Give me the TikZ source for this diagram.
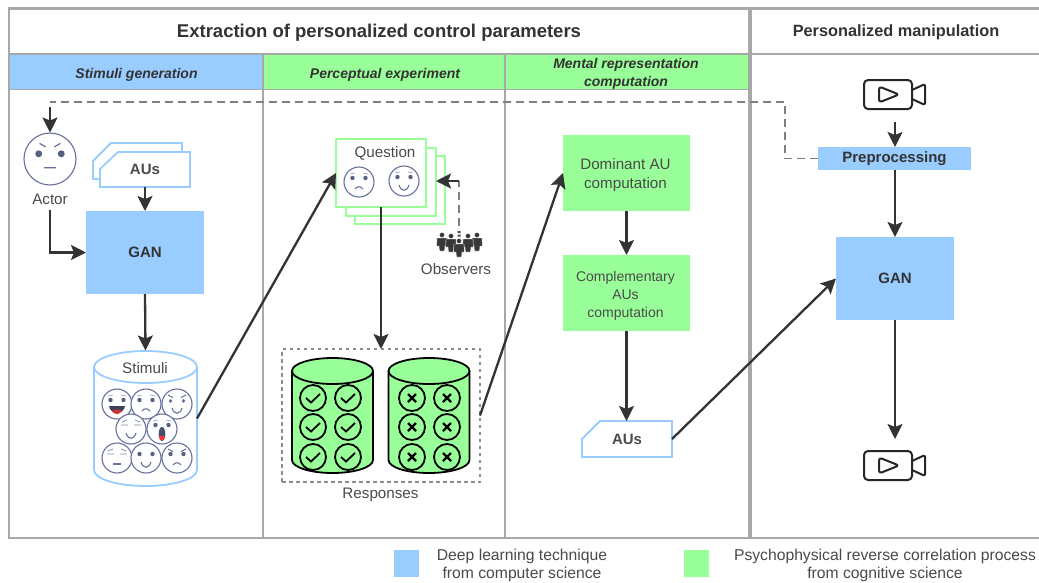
\documentclass[tikz,border=0pt]{standalone}
\usepackage{fontspec}
\setmainfont{Liberation Sans}
\usetikzlibrary{arrows.meta,calc}
\definecolor{bl}{HTML}{99CCFF}
\definecolor{gr}{HTML}{99FF99}
\definecolor{frm}{HTML}{A8A8A8}
\definecolor{ink}{HTML}{333333}
\definecolor{txt}{HTML}{4A4A4A}
\definecolor{fc}{HTML}{66709A}
\tikzset{
 x=1pt,y=-1pt,
 every node/.style={inner sep=0pt,outer sep=0pt,text=txt,align=center,font=\fontsize{15.2}{18.5}\selectfont},
 framel/.style={draw=frm,line width=2.2pt},
 head/.style={font=\fontsize{14}{18}\selectfont\bfseries\itshape,text=ink},
 blbox/.style={fill=bl,draw=none,font=\fontsize{15}{18}\selectfont\bfseries,text=ink},
 grbox/.style={fill=gr,draw=none},
 arr/.style={draw=ink,line width=2.3pt,-{Stealth[length=15pt,width=15pt,inset=3pt]}},
 dsh/.style={draw=gray,line width=1.5pt,dash pattern=on 8pt off 5pt},
 chamf/.style={draw=bl,line width=1.8pt,fill=white,line join=miter},
 card/.style={draw=gr,line width=2pt,fill=white,minimum width=90pt,minimum height=68pt},
 cyl/.style={draw=black,line width=1.8pt,fill=gr},
 rk/.style={draw=black,line width=1.8pt},
 cam/.style={draw=black!85,line width=2pt,line join=round},
}
\newcommand\myface[4]{\begin{scope}[shift={(#1,#2)},scale=#3/15]
 \draw[fc,line width=1.1pt,fill=white] (0,0) circle (15);
 #4\end{scope}}
\newcommand\fEyes{\fill[fc!85!black] (-6.5,-4) circle (2.2) (6.5,-4) circle (2.2);}
\newcommand\fBrows{\draw[fc!70,line width=.6pt] (-9,-8)--(-4,-9) (9,-8)--(4,-9);}
\newcommand\fAngry{\draw[fc!90!black,line width=.9pt] (-9,-9)--(-4,-6.5) (9,-9)--(4,-6.5);}
\newcommand\fSmile{\draw[fc,line width=1.1pt] (-5,4) .. controls (-3,11) and (3,11) .. (5,4);}
\newcommand\fSad{\draw[fc,line width=1.1pt] (-4,7) .. controls (-2,4) and (2,4) .. (4,7);}
\newcommand\fFlat{\draw[fc,line width=1.1pt] (-4,6)--(4,6);}
\newcommand\fLaugh{\fill[fc!60!black] (-8,2) -- (8,2) .. controls (7,11) and (-7,11) .. (-8,2) -- cycle;
 \fill[red!75!black!80] (-5,7) .. controls (-3,5) and (3,5) .. (5,7) .. controls (3,11) and (-3,11) .. (-5,7) -- cycle;}
\newcommand\fWow{\fill[fc!70!black] (0,5) ellipse (3.3 and 7); \fill[red!80] (-3,7) -- (3,7) .. controls (3,13) and (-3,13) .. (-3,7) -- cycle;}
\newcommand\fClosed{\draw[fc!80,line width=.8pt] (-10,-4)--(-3,-4) (10,-4)--(3,-4) (-9,-7)--(-4,-9) (9,-7)--(4,-9);}
\newcommand\camera[2]{\begin{scope}[shift={(#1,#2)}]
 \draw[cam,rounded corners=4pt] (-30,-14.5) rectangle (18,14.5);
 \draw[cam,rounded corners=3pt] (-15,-8)--(5,0)--(-15,8)--cycle;
 \draw[cam,rounded corners=2pt] (18,-4.5)--(31,-10.5)--(31,10.5)--(18,4.5);
 \end{scope}}
\newcommand\person[2]{\fill[black!78,draw=white,line width=.3pt] (#1,#2) circle (2.6);
 \fill[black!78,draw=white,line width=.4pt] (#1-5,#2+3) -- (#1+5,#2+3) -- (#1+5.4,#2+11) -- (#1+3,#2+11) -- (#1+2.6,#2+16) -- (#1-2.6,#2+16) -- (#1-3,#2+11) -- (#1-5.4,#2+11) -- cycle;}
\begin{document}
\begin{tikzpicture}
\useasboundingbox (0,0) rectangle (1039,582);
\fill[white] (0,0) rectangle (1039,582);
% header fills
\fill[bl] (10,55) rectangle (262,89);
\fill[gr] (263,55) rectangle (505,89);
\fill[gr] (506,55) rectangle (748,89);
% frame
\draw[framel] (1039,8.5) -- (9,8.5) -- (9,538) -- (1039,538);
\draw[framel] (263,54) -- (263,538) (505,54) -- (505,538);
\draw[framel,line width=4pt] (750,8) -- (750,538);
\draw[framel,line width=1.5pt] (9,54) -- (1039,54) (9,89.5) -- (748,89.5);
% headers
\node[font=\fontsize{18.5}{22}\selectfont\bfseries,text=ink] (t1) at (379,33) {Extraction of personalized control parameters};
\node[font=\fontsize{16.3}{20}\selectfont\bfseries,text=ink] (t2) at (896,32) {Personalized manipulation};
\node[head] (h1) at (136.5,74.5) {Stimuli generation};
\node[head] (h2) at (385,74.5) {Perceptual experiment};
\node[head] (h3) at (626,74) {Mental representation\\computation};
% column 1
\node[draw=none] (actor) at (50,159) [circle,minimum size=53pt] {};
\myface{50}{159}{26}{\fill[fc!85!black] (-6.5,-3) circle (2) (6.5,-3) circle (2);\draw[fc,line width=1.2pt] (-6,-9)--(-2.5,-7) (6,-9)--(2.5,-7) (-3.5,5)--(3.5,5);}
\node (actorl) at (50,199) [minimum height=22pt] {Actor};
\draw[chamf] (93,179) -- (93,161) -- (111,143) -- (182,143) -- (182,179) -- cycle;
\draw[chamf] (100,187) -- (100,169) -- (118,152) -- (190,152) -- (190,187) -- cycle;
\node[font=\fontsize{15}{18}\selectfont\bfseries,minimum width=90pt,minimum height=35pt] (aus1) at (145,169.5) {\raisebox{-1.5pt}{AUs}};
\node[blbox,minimum width=118pt,minimum height=83pt] (gan1) at (145,252.5) {\raisebox{-2pt}{GAN}};
\draw[arr] (aus1.south) -- (gan1.north);
\draw[arr] (actorl.south) |- (gan1.west);
% stimuli
\draw[bl,line width=1.8pt,fill=white] (94,367) -- (94,470) arc[start angle=180,end angle=0,x radius=51.5,y radius=16] -- (197,367);
\draw[bl,line width=1.8pt,fill=white] (145.5,367) ellipse (51.5 and 16);
\node (stimuli) at (145.5,418.5) [minimum width=103pt,minimum height=136pt] {};
\node (stimt) at (145,368) {Stimuli};
\myface{117}{404}{15}{\fEyes\fBrows\fLaugh}
\myface{146}{404}{15}{\fEyes\fBrows\fSad}
\myface{177}{404}{15}{\fill[fc] (-6.5,-3) circle (1.8) (6.5,-3) circle (1.8);\fAngry\fSmile}
\myface{131}{429}{15}{\fClosed\fSmile}
\myface{162}{429}{15}{\fEyes\fBrows\fWow}
\myface{117}{458}{15}{\fClosed\fFlat}
\myface{146}{458}{15}{\fEyes\fSmile}
\myface{177}{458}{15}{\fEyes\fAngry\fSad}
\draw[arr] (gan1.south) -- (stimuli.north);
% question
\node[card] (card3) at (400,189.5) {};
\node[card] (card2) at (391,181.5) {};
\node[card] (question) at (381,173) {};
\node (qt) at (385,153) {Question};
\myface{359}{182}{15}{\fEyes\fBrows\fSad}
\myface{404}{181}{15}{\fEyes\fBrows\fSmile}
\draw[arr] (stimuli.east) -- (question.west);
% observers
\node (obs) at (459,243) [minimum width=44pt,minimum height=34pt] {};
\person{442}{235}
\person{477}{235}
\person{451}{236}
\person{468}{236}
\person{459}{241}
\fill[black!70] (457.5,231) rectangle (460.5,233) (457.5,234.5) rectangle (460.5,236.5);
\node (obst) at (456,269.5) {Observers};
\coordinate (o1) at (459,181);
\draw[dsh] (obs.north) -- (o1);
\draw[arr] (o1) -- (card2.east |- o1);
% responses
\node[draw=gray!90,line width=1.4pt,dash pattern=on 3.5pt off 3.5pt,minimum width=198pt,minimum height=133pt] (resp) at (381,415.5) {};
\node (respt) at (380.5,495) {Responses};
\draw[arr] (question.south) -- (resp.north);
\foreach \cx in {332.5,429}{
 \draw[cyl] (\cx-40.5,371) -- (\cx-40.5,460) arc[start angle=180,end angle=0,x radius=40.5,y radius=13] -- (\cx+40.5,371);
 \draw[cyl] (\cx,371) ellipse (40.5 and 13);
}
\foreach \cx in {313,348}\foreach \cy in {398,427,457}{
 \draw[rk] (\cx,\cy) circle (13);
 \draw[rk] (\cx-7,\cy) -- (\cx-2,\cy+4.5) -- (\cx+7,\cy-4);
}
\foreach \cx in {412,447}\foreach \cy in {398,427,457}{
 \draw[rk] (\cx,\cy) circle (13);
 \draw[rk,line width=2.2pt] (\cx-4,\cy-4) -- (\cx+4,\cy+4) (\cx-4,\cy+4) -- (\cx+4,\cy-4);
}
% mental
\node[grbox,minimum width=127pt,minimum height=76pt] (dom) at (626.5,173) {};
\node (domt) at (625.5,175) {Dominant AU\\computation};
\node[grbox,minimum width=127pt,minimum height=76pt] (comp) at (626.5,293) {};
\node[font=\fontsize{14}{18}\selectfont] (compt) at (625.5,296) {Complementary\\AUs\\computation};
\draw[chamf] (582,457) -- (582,439) -- (600,421) -- (672,421) -- (672,457) -- cycle;
\node[font=\fontsize{15}{18}\selectfont\bfseries,minimum width=90pt,minimum height=36pt] (aus2) at (627,439) {\raisebox{-1.5pt}{AUs}};
\draw[arr] (resp.east) -- (dom.west);
\draw[arr] (dom.south) -- (comp.north);
\draw[arr] (comp.south) -- (comp.south |- aus2.north);
% right
\node (cam1) at (895,94) [minimum width=60pt,minimum height=56pt] {};
\camera{894}{94.5}
\node[blbox,minimum width=153pt,minimum height=23pt] (prep) at (894.5,158.5) {\raisebox{-2pt}{Preprocessing}};
\node[blbox,minimum width=118pt,minimum height=83pt] (gan2) at (895,278.5) {\raisebox{-2pt}{GAN}};
\node (cam2) at (895,465) [minimum width=60pt,minimum height=52pt] {};
\camera{894}{465.5}
\draw[arr] (cam1.south) -- (prep.north -| cam1.south);
\draw[arr] (prep.south -| gan2.north) -- (gan2.north);
\draw[arr] (gan2.south) -- (cam2.north);
\draw[arr] (aus2.east) -- (gan2.west);
\coordinate (d1) at (785,102);
\coordinate (d2) at (50,102);
\coordinate (d3) at (50,107);
\draw[dsh] (prep.west) -| (d1) -- (d2);
\draw[arr] (d3) -- (actor.north);
% legend
\node[fill=bl,minimum width=25pt,minimum height=27pt] (lb) at (406.5,563.5) {};
\node[fill=gr,minimum width=25pt,minimum height=27pt] (lg) at (696.5,563.5) {};
\node[font=\fontsize{15.7}{18}\selectfont] (lt1) at (522,565) {Deep learning technique\\from computer science};
\node[font=\fontsize{15.7}{18}\selectfont] (lt2) at (885,565) {Psychophysical reverse correlation process\\from cognitive science};
\end{tikzpicture}
\end{document}
